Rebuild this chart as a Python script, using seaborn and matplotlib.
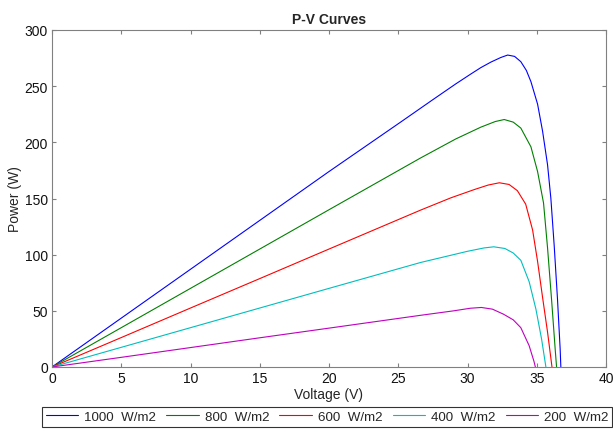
import numpy as np
import pandas as pd
import matplotlib
matplotlib.use("Agg")
import matplotlib.pyplot as plt
import seaborn as sns

# ---- data ----
labels = ["1000  W/m2", "800  W/m2", "600  W/m2", "400  W/m2", "200  W/m2"]
colors = ["#0000ff", "#008000", "#ff0000", "#00bfbf", "#bf00bf"]

v_1000 = [0, 5, 10, 15, 20, 25.17, 27.5, 29.15, 30.2, 30.96, 31.7, 32.4, 32.9, 33.4, 33.85,
          34.25, 34.58, 35.06, 35.42, 35.78, 36.02, 36.26, 36.5, 36.69, 36.74]
p_1000 = [0, 43.5, 87, 130.5, 174, 218, 238, 252, 260.5, 266.5, 271.5, 275.5, 277.7, 276.5, 271.8,
          264, 254, 234, 210, 180, 150, 108, 60, 16, 0]

v_800 = [0, 5, 10, 15, 20, 26.6, 29.15, 30.96, 32.0, 32.65, 33.3, 33.85, 34.58, 35.06, 35.49,
         35.78, 36.07, 36.33, 36.43]
p_800 = [0, 35, 70, 105, 140, 186, 203, 213.5, 218.5, 220.3, 218, 212.7, 196, 174, 146,
         106, 60, 16, 0]

v_600 = [0, 5, 10, 15, 20, 26.6, 28.8, 30.5, 31.5, 32.3, 33.0, 33.6, 34.2, 34.7, 35.06,
         35.42, 35.78, 36.1]
p_600 = [0, 26.2, 52.5, 78.7, 105, 139.6, 150.6, 158, 162, 164, 162.5, 157, 145, 122, 94,
         62, 31, 0]

v_400 = [0, 5, 10, 15, 20, 26.6, 30.0, 31.2, 31.9, 32.7, 33.3, 33.85, 34.45, 34.94, 35.35, 35.66]
p_400 = [0, 17.5, 35, 52.5, 70, 93, 103, 106, 107, 105.5, 101.5, 95, 76, 51.5, 24.8, 0]

v_200 = [0, 5, 10, 15, 20, 26.6, 29.0, 30.2, 31.0, 31.8, 32.6, 33.3, 33.85, 34.45, 34.8, 34.9]
p_200 = [0, 8.6, 17.3, 26, 34.6, 46, 50, 52.3, 53, 51.5, 47, 42, 35, 19, 5, 0]

voltages = [v_1000, v_800, v_600, v_400, v_200]
powers = [p_1000, p_800, p_600, p_400, p_200]

frames = []
for lab, v, p in zip(labels, voltages, powers):
    frames.append(pd.DataFrame({"Voltage": v, "Power": p, "Irradiance": lab}))
df = pd.concat(frames, ignore_index=True)

# ---- style ----
sns.set_style("ticks")
plt.rcParams["font.family"] = ["Liberation Sans", "DejaVu Sans"]
plt.rcParams["font.size"] = 10

fig = plt.figure(figsize=(6.13, 4.31), dpi=100)
ax = fig.add_axes([52 / 613, 63 / 431, 554 / 613, 337 / 431])

sns.lineplot(data=df, x="Voltage", y="Power", hue="Irradiance",
             palette=dict(zip(labels, colors)), hue_order=labels,
             sort=False, estimator=None, linewidth=0.8, ax=ax)

ax.set_xlim(0, 40)
ax.set_ylim(0, 300)
ax.set_xticks(np.arange(0, 41, 5))
ax.set_yticks(np.arange(0, 301, 50))
ax.set_xlabel("Voltage (V)", fontsize=10, labelpad=1)
ax.set_ylabel("Power (W)", fontsize=10, labelpad=2)
ax.set_title("P-V Curves", fontsize=10, fontweight="bold", pad=5)

spine_col = "#808080"
for s in ax.spines.values():
    s.set_visible(True)
    s.set_color(spine_col)
    s.set_linewidth(0.8)
ax.tick_params(direction="in", length=3, width=0.8, color=spine_col,
               top=True, right=True, labelsize=10, pad=3, labelcolor="#111111")

handles, labs = ax.get_legend_handles_labels()
ax.get_legend().remove()
leg = fig.legend(handles, labs, loc="upper left", ncol=5,
                 bbox_to_anchor=(42 / 613, 1 - 408 / 431),
                 frameon=True, fancybox=False, fontsize=9.6,
                 handlelength=2.45, handletextpad=0.42, columnspacing=0.78,
                 borderpad=0.28, borderaxespad=0)
leg.get_frame().set_edgecolor("black")
leg.get_frame().set_linewidth(0.8)

fig.savefig("out.png", dpi=100)
